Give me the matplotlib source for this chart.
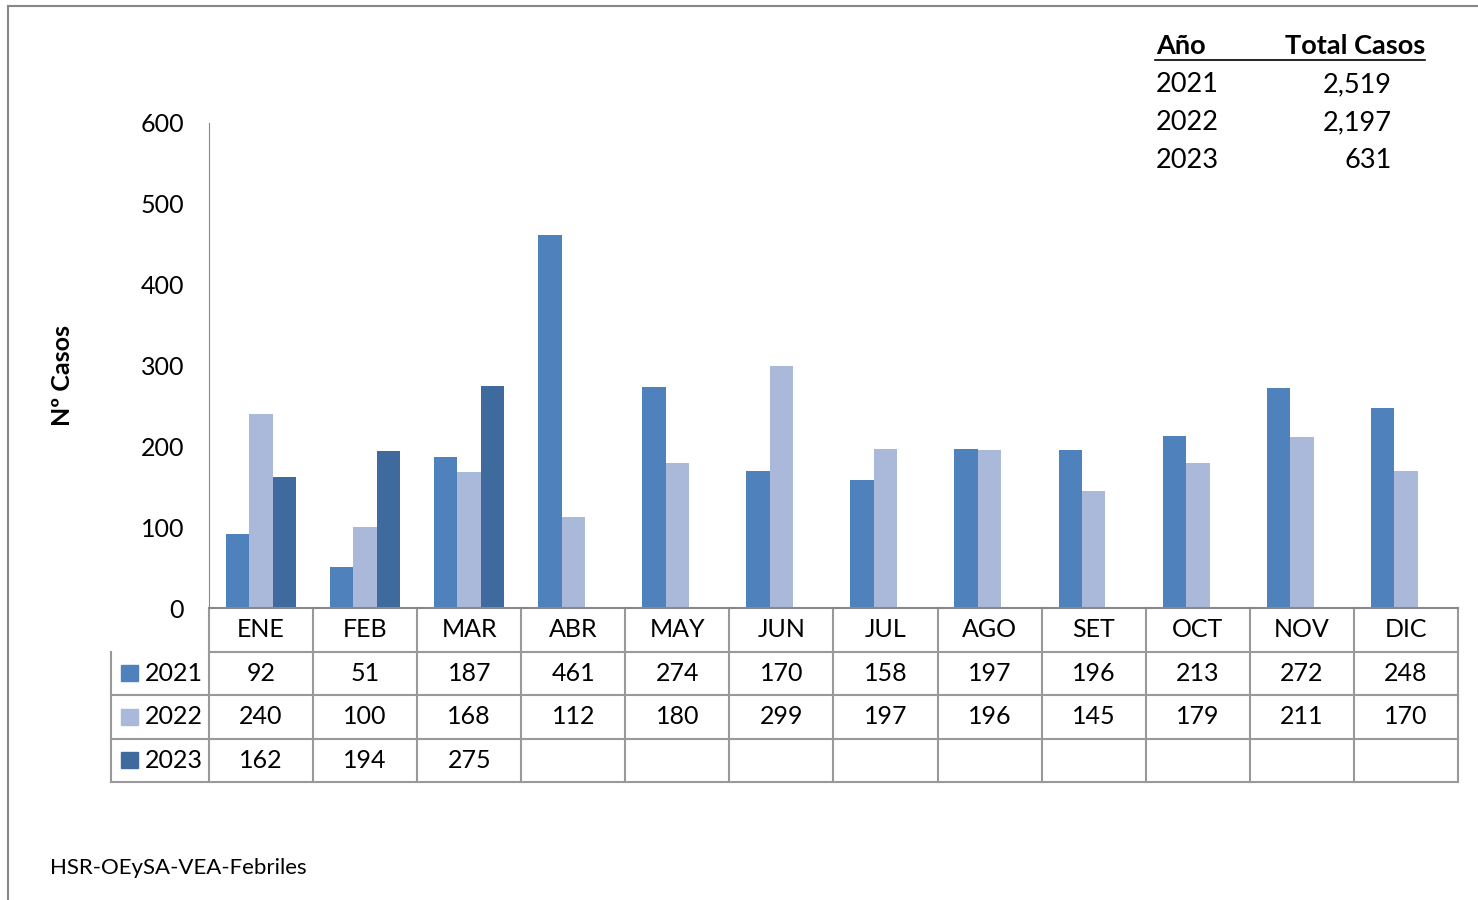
import matplotlib
matplotlib.use("Agg")
import matplotlib.pyplot as plt
import matplotlib.transforms as mtransforms
from matplotlib.lines import Line2D
from matplotlib.patches import Rectangle
import numpy as np

plt.rcParams['font.family'] = ['Lato', 'DejaVu Sans']

# data
meses = ['ENE', 'FEB', 'MAR', 'ABR', 'MAY', 'JUN', 'JUL', 'AGO', 'SET', 'OCT', 'NOV', 'DIC']
casos_2021 = [92, 51, 187, 461, 274, 170, 158, 197, 196, 213, 272, 248]
casos_2022 = [240, 100, 168, 112, 180, 299, 197, 196, 145, 179, 211, 170]
casos_2023 = [162, 194, 275]
anios = ['2021', '2022', '2023']
totales = ['2,519', '2,197', '631']

colores = ['#4F81BD', '#AAB9DA', '#3F6A9E']
series = [casos_2021, casos_2022, casos_2023]

W, H = 1478, 900
fs = 18
fig = plt.figure(figsize=(W / 100, H / 100), dpi=100)
ax = fig.add_axes([209 / W, 1 - 608 / H, (1458 - 209) / W, (608 - 123) / H])

x = np.arange(len(meses))
w = 0.225
for i, (vals, col) in enumerate(zip(series, colores)):
    ax.bar(x[:len(vals)] + (i - 1) * w, vals, width=w, color=col, zorder=2)

ax.set_xlim(-0.5, len(meses) - 0.5)
ax.set_ylim(0, 600)
ax.set_yticks(range(0, 601, 100))
ax.tick_params(axis='y', length=0, pad=18, labelsize=fs)
ax.set_xticks([])
for s in ['top', 'right']:
    ax.spines[s].set_visible(False)
ax.spines['left'].set_color('#888888')
ax.spines['bottom'].set_color('#888888')
ax.spines['bottom'].set_linewidth(1.5)

fig.text(63 / W, 1 - 376 / H, 'Nº Casos', rotation=90, fontsize=18, fontweight='bold',
         ha='center', va='center')

# data table below the chart
trans = mtransforms.blended_transform_factory(ax.transData, ax.transAxes)
rh = 43.5 / 485
left_x = -0.5 - 98 / 104.1
gray = '#999999'

def hline(x0, x1, y):
    ax.add_line(Line2D([x0, x1], [y, y], transform=trans, color=gray, lw=1.5, clip_on=False))

def vline(xx, y0, y1):
    ax.add_line(Line2D([xx, xx], [y0, y1], transform=trans, color=gray, lw=1.5, clip_on=False))

hline(-0.5, len(meses) - 0.5, -rh)
for r in range(2, 5):
    hline(left_x, len(meses) - 0.5, -r * rh)
for c in range(len(meses) + 1):
    vline(c - 0.5, 0, -4 * rh)
vline(left_x, -rh, -4 * rh)

for j, m in enumerate(meses):
    ax.text(j, -0.5 * rh, m, transform=trans, ha='center', va='center', fontsize=fs)
for r, (vals, col, yr) in enumerate(zip(series, colores, anios)):
    yc = -(r + 1.5) * rh
    for j, v in enumerate(vals):
        ax.text(j, yc, str(v), transform=trans, ha='center', va='center', fontsize=fs)
    ax.add_patch(Rectangle((left_x + 10 / 104.1, yc - 8 / 485), 17 / 104.1, 16 / 485,
                           transform=trans, color=col, clip_on=False))
    ax.text(left_x + 34 / 104.1, yc, yr, transform=trans, ha='left', va='center', fontsize=fs)

# totals box top right
fig.text(1156 / W, 1 - 46 / H, 'Año', fontsize=19.5, fontweight='bold', ha='left', va='center')
fig.text(1425 / W, 1 - 46 / H, 'Total Casos', fontsize=19.5, fontweight='bold', ha='right', va='center')
fig.add_artist(Line2D([1155 / W, 1425 / W], [1 - 60 / H, 1 - 60 / H], color='black', lw=1.2))
for k, (yr, tot) in enumerate(zip(anios, totales)):
    yy = 1 - (85 + 38 * k) / H
    fig.text(1156 / W, yy, yr, fontsize=19.5, ha='left', va='center')
    fig.text(1392 / W, yy, tot, fontsize=19.5, ha='right', va='center')

fig.text(50 / W, 1 - 868 / H, 'HSR-OEySA-VEA-Febriles', fontsize=16, ha='left', va='center')

# outer chart frame (top and left edges visible)
fig.add_artist(Line2D([8 / W, 8 / W], [0, 1 - 6 / H], color='#888888', lw=1.5))
fig.add_artist(Line2D([8 / W, 1], [1 - 6 / H, 1 - 6 / H], color='#888888', lw=1.5))

fig.savefig('out.png', dpi=100)
